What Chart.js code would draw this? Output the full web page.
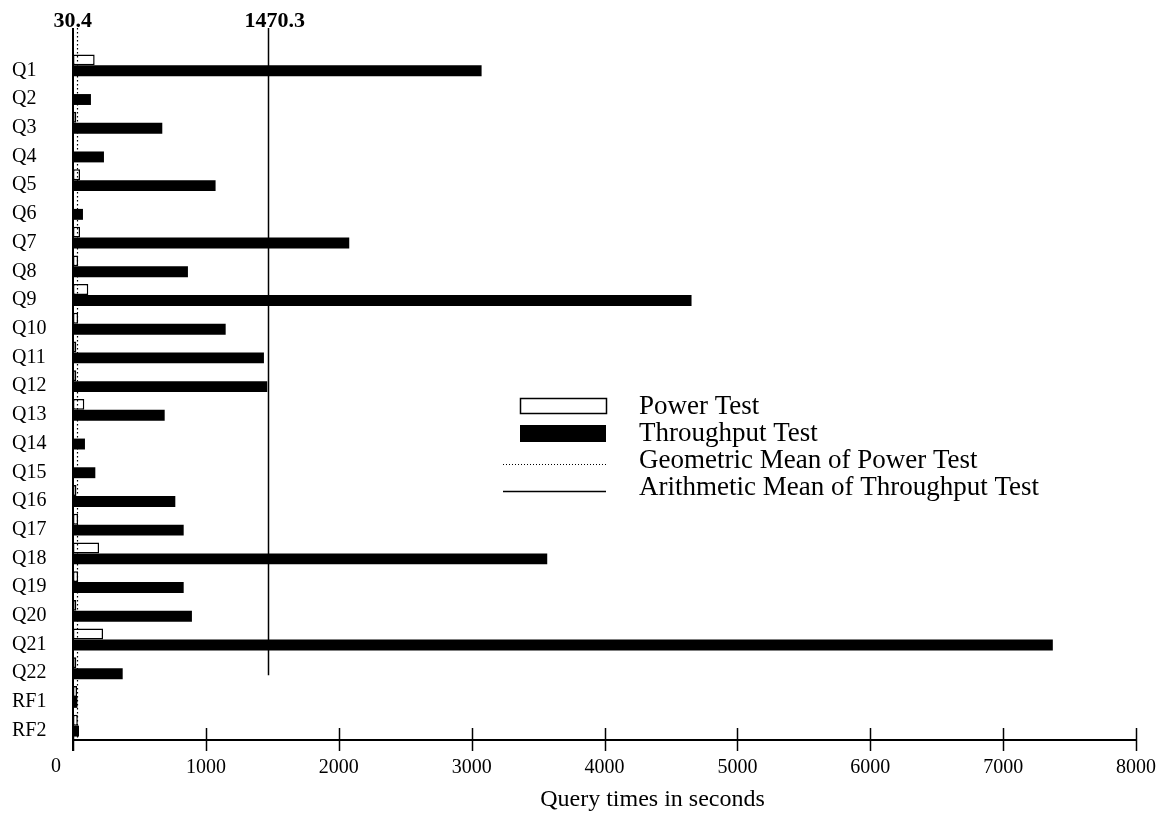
<!DOCTYPE html>
<html>
<head>
<meta charset="utf-8">
<script src="https://cdn.jsdelivr.net/npm/chart.js@4.4.1/dist/chart.umd.min.js"></script>
<style>
  html, body { margin: 0; padding: 0; background: #fff; }
  #wrap { width: 1160px; height: 819px; position: relative; }
</style>
</head>
<body>
<div id="wrap"><canvas id="c"></canvas></div>
<script>
const categories = ['Q1','Q2','Q3','Q4','Q5','Q6','Q7','Q8','Q9','Q10','Q11','Q12','Q13','Q14','Q15','Q16','Q17','Q18','Q19','Q20','Q21','Q22','RF1','RF2'];
const powerTest = [163, 8, 25, 8, 53, 8, 53, 38, 115, 38, 25, 25, 85, 8, 8, 26, 38, 196, 38, 25, 226, 25, 30, 36];
const throughputTest = [3075, 135, 672, 233, 1073, 75, 2079, 865, 4655, 1149, 1437, 1462, 690, 90, 168, 770, 833, 3569, 833, 895, 7374, 374, 33, 45];
const xTicks = [0, 1000, 2000, 3000, 4000, 5000, 6000, 7000, 8000];
const geoMeanPower = 30.4;
const arithMeanThroughput = 1470.3;
const meanLabels = ['30.4', '1470.3'];
const legendLabels = ['Power Test', 'Throughput Test', 'Geometric Mean of Power Test', 'Arithmetic Mean of Throughput Test'];
const xTitle = 'Query times in seconds';

const SERIF = '"Liberation Serif", "DejaVu Serif", serif';

const overlay = {
  id: 'overlay',
  afterDraw(chart) {
    const ctx = chart.ctx;
    const xs = chart.scales.x, ys = chart.scales.y;
    const area = chart.chartArea;
    const topY = 28;
    ctx.save();
    ctx.strokeStyle = '#000';
    const x0 = Math.round(xs.getPixelForValue(0));
    ctx.lineWidth = 2;
    ctx.beginPath(); ctx.moveTo(x0, topY); ctx.lineTo(x0, area.bottom + 11); ctx.stroke();
    ctx.lineWidth = 1.5;
    xTicks.forEach(v => {
      const px = Math.round(xs.getPixelForValue(v)) + 0.5;
      ctx.beginPath(); ctx.moveTo(px, area.bottom - 12); ctx.lineTo(px, area.bottom + 11); ctx.stroke();
    });
    const xg = Math.round(xs.getPixelForValue(geoMeanPower)) + 0.5;
    ctx.lineWidth = 1.2;
    ctx.setLineDash([1.5, 2.5]);
    ctx.beginPath(); ctx.moveTo(xg, topY); ctx.lineTo(xg, area.bottom); ctx.stroke();
    ctx.setLineDash([]);
    const xa = Math.round(xs.getPixelForValue(arithMeanThroughput)) + 0.5;
    ctx.lineWidth = 1.5;
    const endY = ys.getPixelForValue(categories.indexOf('Q22')) + 7;
    ctx.beginPath(); ctx.moveTo(xa, topY); ctx.lineTo(xa, endY); ctx.stroke();
    ctx.fillStyle = '#000';
    ctx.font = 'bold 22px ' + SERIF;
    ctx.textBaseline = 'alphabetic';
    ctx.textAlign = 'left';
    ctx.fillText(meanLabels[0], xg - 24, 27);
    ctx.fillText(meanLabels[1], xa - 24, 27);
    // zero tick label (set to the left of the axis as in the reference)
    ctx.font = '20px ' + SERIF;
    ctx.textAlign = 'center';
    ctx.textBaseline = 'middle';
    ctx.fillText(String(xTicks[0]), x0 - 17, 767);
    // axis title
    ctx.font = '24px ' + SERIF;
    ctx.fillText(xTitle, (area.left + area.right) / 2 + 48, 800);
    // legend
    const lx0 = 503, lx1 = 606, bx0 = 520, tx = 639;
    const rowY = [405, 432, 459, 486];
    ctx.font = '27px ' + SERIF;
    ctx.textAlign = 'left';
    ctx.textBaseline = 'middle';
    ctx.lineWidth = 1.5;
    ctx.fillStyle = '#fff';
    ctx.fillRect(bx0, rowY[0] - 7, lx1 - bx0, 15);
    ctx.strokeRect(bx0 + 0.5, rowY[0] - 7 + 0.5, lx1 - bx0, 15);
    ctx.fillStyle = '#000';
    ctx.fillRect(bx0, rowY[1] - 7, lx1 - bx0, 17);
    ctx.lineWidth = 1;
    ctx.setLineDash([1, 2]);
    ctx.beginPath(); ctx.moveTo(lx0, rowY[2] + 5.5); ctx.lineTo(lx1, rowY[2] + 5.5); ctx.stroke();
    ctx.setLineDash([]);
    ctx.lineWidth = 1.5;
    ctx.beginPath(); ctx.moveTo(lx0, rowY[3] + 5.5); ctx.lineTo(lx1, rowY[3] + 5.5); ctx.stroke();
    legendLabels.forEach((t, i) => ctx.fillText(t, tx, rowY[i] + 2));
    ctx.restore();
  }
};

new Chart(document.getElementById('c'), {
  type: 'bar',
  data: {
    labels: categories,
    datasets: [
      { label: legendLabels[0], data: powerTest, backgroundColor: '#fff', borderColor: '#000', borderWidth: 1.5, borderSkipped: false },
      { label: legendLabels[1], data: throughputTest, backgroundColor: '#000', borderColor: '#000', borderWidth: 0 }
    ]
  },
  options: {
    indexAxis: 'y',
    responsive: true,
    maintainAspectRatio: false,
    animation: false,
    layout: { padding: { left: 12, right: 24, top: 51, bottom: 0 } },
    datasets: { bar: { categoryPercentage: 0.76, barPercentage: 1.0 } },
    plugins: { legend: { display: false }, tooltip: { enabled: false } },
    scales: {
      x: {
        type: 'linear',
        min: 0, max: 8000,
        afterBuildTicks: (s) => { s.ticks = xTicks.map(v => ({ value: v })); },
        afterFit: (s) => { s.height = 79; s.paddingRight = 0; s.paddingLeft = 0; },
        grid: { display: false, drawTicks: false },
        border: { display: true, color: '#000', width: 2 },
        ticks: { color: '#000', font: { family: SERIF, size: 20 }, padding: 16, maxRotation: 0, callback: (v) => (v === 0 ? '' : String(v)) },
        title: { display: false }
      },
      y: {
        type: 'category',
        afterFit: (s) => { s.width = 61; },
        grid: { display: false, drawTicks: false },
        border: { display: true, color: '#000', width: 2 },
        ticks: { color: '#000', font: { family: SERIF, size: 20 }, crossAlign: 'far', padding: 6, labelOffset: 5, autoSkip: false }
      }
    }
  },
  plugins: [overlay]
});
</script>
</body>
</html>
